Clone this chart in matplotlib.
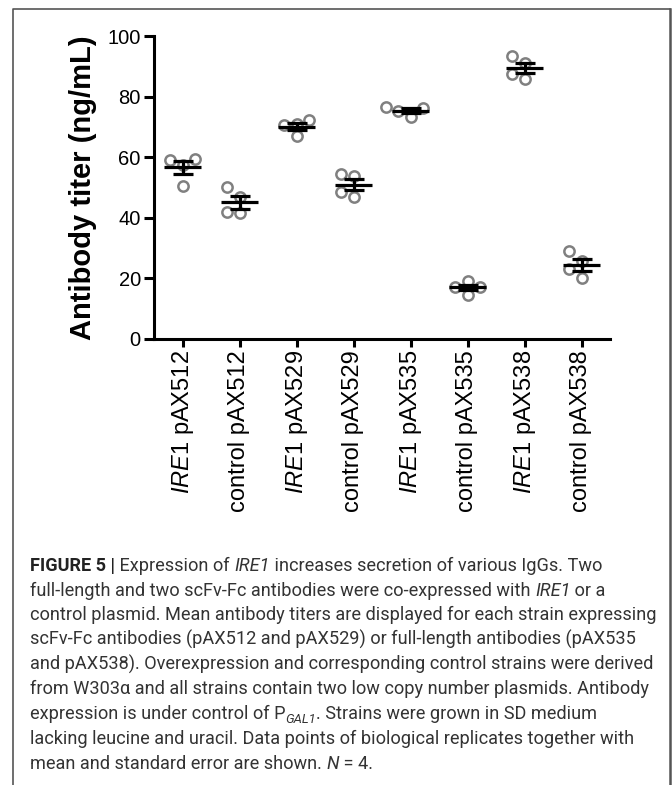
import matplotlib
matplotlib.use("Agg")
import matplotlib.pyplot as plt
import numpy as np
from matplotlib.lines import Line2D

plt.rcParams["mathtext.fontset"] = "custom"
plt.rcParams["mathtext.rm"] = "Liberation Sans"
plt.rcParams["mathtext.it"] = "Liberation Sans:italic"
plt.rcParams["font.family"] = ["Liberation Sans", "DejaVu Sans"]

# ---------------- data ----------------
categories = [r"$\mathit{IRE1}$ pAX512", "control pAX512",
              r"$\mathit{IRE1}$ pAX529", "control pAX529",
              r"$\mathit{IRE1}$ pAX535", "control pAX535",
              r"$\mathit{IRE1}$ pAX538", "control pAX538"]

ire1_pAX512 = [50.6, 57.5, 59.2, 59.5]
control_pAX512 = [41.6, 41.8, 46.8, 50.1]
ire1_pAX529 = [66.9, 70.5, 70.9, 72.2]
control_pAX529 = [47.0, 48.6, 53.9, 54.3]
ire1_pAX535 = [73.3, 75.3, 76.2, 76.6]
control_pAX535 = [14.6, 17.1, 17.3, 19.0]
ire1_pAX538 = [85.9, 87.6, 91.2, 93.4]
control_pAX538 = [20.1, 23.1, 25.8, 29.1]

groups = [ire1_pAX512, control_pAX512, ire1_pAX529, control_pAX529,
          ire1_pAX535, control_pAX535, ire1_pAX538, control_pAX538]

y_ticks = [0, 20, 40, 60, 80, 100]
y_label = "Antibody titer (ng/mL)"

# caption: list of lines, each a list of (text, style)
caption_lines = [
    [("FIGURE 5 |", "bold"), (" Expression of ", "reg"), ("IRE1", "it"),
     (" increases secretion of various IgGs. Two", "reg")],
    [("full-length and two scFv-Fc antibodies were co-expressed with ", "reg"),
     ("IRE1", "it"), (" or a", "reg")],
    [("control plasmid. Mean antibody titers are displayed for each strain expressing", "reg")],
    [("scFv-Fc antibodies (pAX512 and pAX529) or full-length antibodies (pAX535", "reg")],
    [("and pAX538). Overexpression and corresponding control strains were derived", "reg")],
    [("from W303\u03b1 and all strains contain two low copy number plasmids. Antibody", "reg")],
    [("expression is under control of P", "reg"), ("GAL1", "sub"),
     (". Strains were grown in SD medium", "reg")],
    [("lacking leucine and uracil. Data points of biological replicates together with", "reg")],
    [("mean and standard error are shown. ", "reg"), ("N", "it"), (" = 4.", "reg")],
]

# ---------------- figure ----------------
W, H = 672, 785
fig = plt.figure(figsize=(W / 100, H / 100), dpi=100)
fig.patch.set_facecolor("white")

ax_left, ax_right, ax_top, ax_bottom = 154, 610, 36, 339
ax = fig.add_axes([ax_left / W, 1 - ax_bottom / H,
                   (ax_right - ax_left) / W, (ax_bottom - ax_top) / H])
ax.set_xlim(-0.5, len(groups) - 0.5)
ax.set_ylim(0, 100)

for s in ["top", "right"]:
    ax.spines[s].set_visible(False)
for s in ["left", "bottom"]:
    ax.spines[s].set_linewidth(2.2)
    ax.spines[s].set_capstyle("projecting")

ax.set_yticks(y_ticks)
ax.set_yticklabels([str(t) for t in y_ticks], fontsize=14.5)
ax.set_xticks(range(len(groups)))
ax.set_xticklabels(categories, rotation=90, fontsize=17, va="top", ha="center")
ax.tick_params(axis="y", length=7.5, width=2.2, pad=2)
ax.tick_params(axis="x", length=6, width=2.2, pad=2)

ax.set_ylabel(y_label, fontsize=21, fontweight="bold")
ax.yaxis.set_label_coords((97 - ax_left) / (ax_right - ax_left), 0.5)

fig.canvas.draw()
trans = ax.transData
px_per_unit = trans.transform((1, 0))[0] - trans.transform((0, 0))[0]


def swarm_offsets(vals, diam=11.5, step=12.5):
    ys = [trans.transform((0, v))[1] for v in vals]
    placed, offs = [], []
    for y in ys:
        dx = 0.0
        for k in [0, -1, 1, -2, 2, -3, 3]:
            dx = k * step
            if all((dx - px) ** 2 + (y - py) ** 2 >= diam ** 2 for px, py in placed):
                break
        placed.append((dx, y))
        offs.append(dx / px_per_unit)
    return offs


for i, vals in enumerate(groups):
    offs = swarm_offsets(vals)
    ax.plot([i + o for o in offs], vals, linestyle="none", marker="o",
            markersize=7.4, markerfacecolor="none", markeredgecolor="#808080",
            markeredgewidth=1.8, zorder=2)
    m = np.mean(vals)
    se = np.std(vals, ddof=1) / np.sqrt(len(vals))
    ax.hlines(m, i - 0.33, i + 0.33, color="black", linewidth=2.3, zorder=3)
    ax.errorbar(i, m, yerr=se, fmt="none", ecolor="black", elinewidth=2.3,
                capsize=7.2, capthick=2.3, zorder=3)

# ---------------- border ----------------
bx0, bx1, by0 = 13 / W, 670 / W, 1 - 9 / H
fig.add_artist(Line2D([bx0, bx0, bx1], [0, by0, by0], transform=fig.transFigure,
                      color="#555555", linewidth=1.2))
fig.add_artist(Line2D([bx1, bx1], [by0, 0], transform=fig.transFigure,
                      color="#555555", linewidth=1.8))

# ---------------- caption ----------------
renderer = fig.canvas.get_renderer()
cap_family = ["Roboto", "DejaVu Sans"]
styles = {
    "reg": dict(family=cap_family, weight="normal", style="normal", color="#333333"),
    "it": dict(family=cap_family, weight="normal", style="italic", color="#333333"),
    "bold": dict(family=cap_family, weight="bold", style="normal", color="#222222"),
    "sub": dict(family=cap_family, weight="normal", style="italic", color="#333333"),
}


def piece_width(txt, style, size):
    kw = styles[style]
    fs = size * (0.72 if style == "sub" else 1.0)
    t1 = fig.text(0, 0, "|" + txt + "|", fontsize=fs, **kw)
    t2 = fig.text(0, 0, "||", fontsize=fs, **kw)
    w = t1.get_window_extent(renderer).width - t2.get_window_extent(renderer).width
    t1.remove()
    t2.remove()
    return w


def line_width(line, size):
    return sum(piece_width(t, s, size) for t, s in line)


base = 12.0
target = 622.0
ref_w = max(line_width(caption_lines[2], base), line_width(caption_lines[4], base))
cap_size = base * target / ref_w

x0 = 30
baseline0 = 571
spacing = 24.7
for li, line in enumerate(caption_lines):
    x = x0
    yb = baseline0 + li * spacing
    for txt, st in line:
        fs = cap_size * (0.72 if st == "sub" else 1.0)
        yy = yb + (4 if st == "sub" else 0)
        fig.text(x / W, 1 - yy / H, txt, fontsize=fs, va="baseline", ha="left",
                 **styles[st])
        x += piece_width(txt, st, cap_size)

fig.savefig("out.png", dpi=100, facecolor="white")
